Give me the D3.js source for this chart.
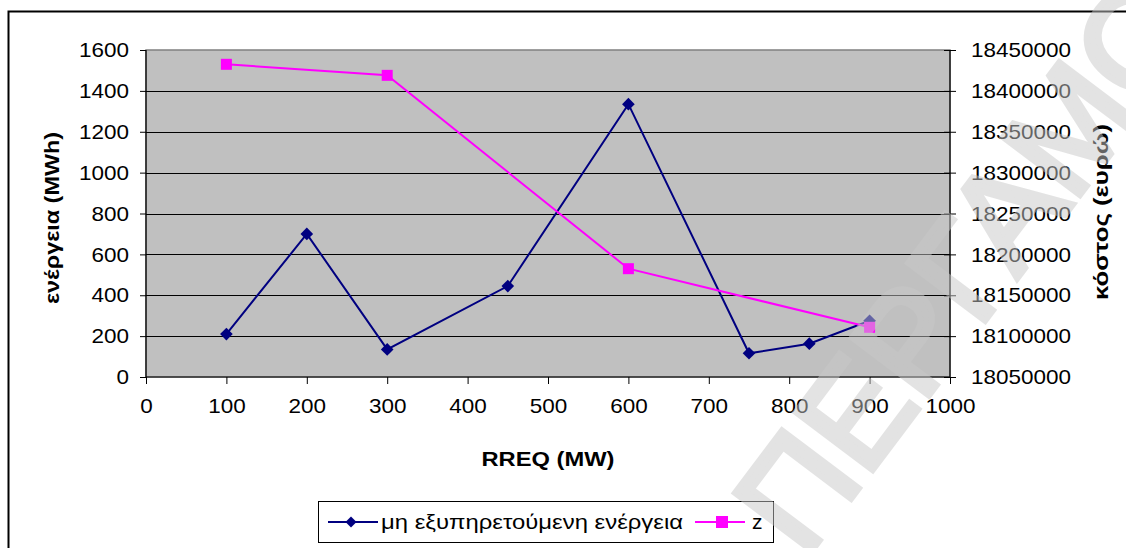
<!DOCTYPE html>
<html><head><meta charset="utf-8">
<script src="https://cdn.jsdelivr.net/npm/d3@7"></script>
<style>
html,body{margin:0;padding:0;background:#fff;}
text{font-family:"Liberation Sans",Arial,sans-serif;}
</style></head>
<body>
<svg id="chart" width="1126" height="548"></svg>
<script>
// ---- data ----
const rreq = [100, 200, 300, 450, 600, 750, 825, 900];
const energy = [210, 700, 135, 445, 1335, 116, 163, 275];
const zRreq = [100, 300, 600, 900];
const zCost = [18432500, 18419000, 18182500, 18110800];
const xTicks = [0,100,200,300,400,500,600,700,800,900,1000];
const yLeftTicks = [0,200,400,600,800,1000,1200,1400,1600];
const yRightTicks = [18050000,18100000,18150000,18200000,18250000,18300000,18350000,18400000,18450000];
const seriesNames = ["μη εξυπηρετούμενη ενέργεια", "z"];
const xTitle = "RREQ (MW)";
const yLeftTitle = "ενέργεια (MWh)";
const yRightTitle = "κόστος (ευρώ)";
const watermark = "ΠΕΡΓΑΜΟΣ";

const svg = d3.select("#chart");
const W = 1126, H = 548;
const pl = 146, pr = 950, pt = 50, pb = 377;
const x = d3.scaleLinear().domain([0,1000]).range([pl,pr]);
const yL = d3.scaleLinear().domain([0,1600]).range([pb,pt]);
const yR = d3.scaleLinear().domain([18050000,18450000]).range([pb,pt]);

function stretch(sel, k){
  sel.each(function(){
    const l = this.getComputedTextLength();
    d3.select(this).attr("textLength", l*k).attr("lengthAdjust","spacingAndGlyphs");
  });
}
function fitTo(sel, len){
  sel.attr("textLength", len).attr("lengthAdjust","spacingAndGlyphs");
}

svg.append("rect").attr("width",W).attr("height",H).attr("fill","#fff");
// outer chart border
svg.append("rect").attr("x",8.5).attr("y",11.5).attr("width",1200).attr("height",600)
  .attr("fill","none").attr("stroke","#000").attr("stroke-width",2);

// plot area
svg.append("rect").attr("x",pl).attr("y",pt).attr("width",pr-pl).attr("height",pb-pt)
  .attr("fill","#c0c0c0").attr("stroke","#808080").attr("stroke-width",1.5);

// gridlines
svg.append("g").selectAll("line").data(yLeftTicks.filter(d=>d>0 && d<1600)).join("line")
  .attr("x1",pl).attr("x2",pr).attr("y1",d=>Math.round(yL(d))+0.5).attr("y2",d=>Math.round(yL(d))+0.5)
  .attr("stroke","#000").attr("stroke-width",1);

const fs = 21;
// left axis
const gl = svg.append("g").attr("transform",`translate(${pl},0)`)
  .call(d3.axisLeft(yL).tickValues(yLeftTicks).tickSize(6).tickPadding(11).tickFormat(d3.format("d")));
// right axis
const gr = svg.append("g").attr("transform",`translate(${pr},0)`)
  .call(d3.axisRight(yR).tickValues(yRightTicks).tickSize(6).tickPadding(15).tickFormat(d3.format("d")));
gr.selectAll(".tick line").attr("x1",-6);
// bottom axis
const gb = svg.append("g").attr("transform",`translate(0,${pb})`)
  .call(d3.axisBottom(x).tickValues(xTicks).tickSize(7).tickPadding(14).tickFormat(d3.format("d")));
[gl,gr,gb].forEach(g=>{
  g.select(".domain").attr("stroke","#000").attr("stroke-width",1.2);
  g.selectAll(".tick line").attr("stroke","#000");
  g.selectAll("text").attr("font-size",fs).attr("font-family","Liberation Sans, Arial, sans-serif").attr("fill","#000");
  stretch(g.selectAll("text"), 1.07);
});
gb.select(".domain").attr("d",`M${pl},0H${pr}`);
gl.select(".domain").attr("d",`M0,${pb}V${pt}`);
gr.select(".domain").attr("d",`M0,${pb}V${pt}`);

// axis titles
fitTo(svg.append("text").attr("x",548).attr("y",466).attr("text-anchor","middle")
  .attr("font-size",21).attr("font-weight","bold").text(xTitle), 133);
fitTo(svg.append("text").attr("transform","translate(59,218) rotate(-90)").attr("text-anchor","middle")
  .attr("font-size",20).attr("font-weight","bold").text(yLeftTitle), 172);
fitTo(svg.append("text").attr("transform","translate(1108,212) rotate(-90)").attr("text-anchor","middle")
  .attr("font-size",20).attr("font-weight","bold").text(yRightTitle), 176);

// series
const eData = rreq.map((d,i)=>({x:d,y:energy[i]}));
const zData = zRreq.map((d,i)=>({x:d,y:zCost[i]}));
const blue = "#000080", pink = "#ff00ff";
svg.append("path").datum(eData).attr("fill","none").attr("stroke",blue).attr("stroke-width",2)
  .attr("d",d3.line().x(d=>x(d.x)).y(d=>yL(d.y)));
svg.append("g").selectAll("path").data(eData).join("path")
  .attr("d",d3.symbol(d3.symbolSquare,80))
  .attr("transform",d=>`translate(${x(d.x)},${yL(d.y)}) rotate(45)`).attr("fill",blue);
svg.append("path").datum(zData).attr("fill","none").attr("stroke",pink).attr("stroke-width",2)
  .attr("d",d3.line().x(d=>x(d.x)).y(d=>yR(d.y)));
svg.append("g").selectAll("rect").data(zData).join("rect")
  .attr("x",d=>x(d.x)-5.5).attr("y",d=>yR(d.y)-5.5).attr("width",11).attr("height",11).attr("fill",pink);

// legend
const lg = svg.append("g");
lg.append("rect").attr("x",318.5).attr("y",501.5).attr("width",455).attr("height",41)
  .attr("fill","#fff").attr("stroke","#000").attr("stroke-width",1);
lg.append("line").attr("x1",328).attr("x2",378).attr("y1",522).attr("y2",522).attr("stroke",blue).attr("stroke-width",2);
lg.append("path").attr("d",d3.symbol(d3.symbolSquare,60)).attr("transform","translate(351,522) rotate(45)").attr("fill",blue);
fitTo(lg.append("text").attr("x",381).attr("y",529).attr("font-size",21).text(seriesNames[0]), 302);
lg.append("line").attr("x1",695).attr("x2",745).attr("y1",522).attr("y2",522).attr("stroke",pink).attr("stroke-width",2);
lg.append("rect").attr("x",716).attr("y",516).attr("width",12).attr("height",12).attr("fill",pink);
lg.append("text").attr("x",752).attr("y",529).attr("font-size",21).text(seriesNames[1]);

// watermark
svg.append("text").attr("transform","translate(805,560) rotate(-53)")
  .attr("font-size",140).attr("fill","#c8c8c8").attr("stroke","#c8c8c8").attr("stroke-width",6)
  .attr("stroke-linejoin","miter").attr("opacity",0.5).attr("letter-spacing",0)
  .text(watermark);
</script>
</body></html>
